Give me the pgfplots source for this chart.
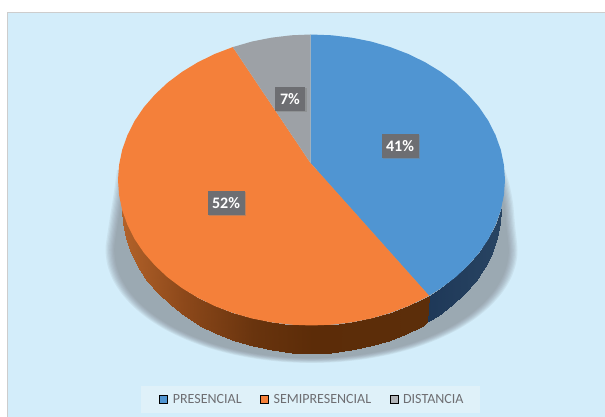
\documentclass[border=0pt]{standalone}
\usepackage{pgfplots}
\usepackage{pgfplotstable}
\usepackage{fontspec}
\setmainfont{Carlito}
\pgfplotsset{compat=1.18}
\usetikzlibrary{shadows}
\definecolor{panel}{HTML}{D3EDFA}
\definecolor{edge}{HTML}{CDCDCD}
\definecolor{blueT}{HTML}{5095D2}
\definecolor{orangeT}{HTML}{F4803A}
\definecolor{greyT}{HTML}{9DA1A6}
\definecolor{legbox}{HTML}{DFF1F9}
\definecolor{legtext}{HTML}{6E6E72}
\definecolor{labbox}{HTML}{6D6E72}
\definecolor{shade}{HTML}{787D82}
\pgfplotstableread{
x y
193.5 10
198 -5
201.5 -23
203.5 -45
206 -70
204.2 -84.7
199 -99.2
190.3 -113.2
178.4 -126.5
163.4 -138.8
145.7 -149.9
125.4 -159.6
103 -167.9
78.8 -174.4
53.3 -179.1
26.9 -182
0 -183
-26.9 -182
-53.3 -179.1
-78.8 -174.4
-103 -167.9
-125.4 -159.6
-145.7 -149.9
-163.4 -138.8
-178.4 -126.5
-190.3 -113.2
-199 -99.2
-204.2 -84.7
-206 -70
-205 -60
-201.5 -37
-198 -15
-194.5 10
}\shadowring
\begin{document}
\begin{tikzpicture}
\begin{axis}[
  scale only axis, width=605pt, height=417pt,
  xmin=-311.5, xmax=293.5, ymin=-237, ymax=180,
  hide axis,
  legend columns=3,
  legend cell align=left,
  legend style={at={(axis cs:-1,-219.5)},anchor=center,fill=legbox,draw=none,
    inner xsep=14pt,inner ysep=6.5pt,
    font=\fontsize{14}{16}\selectfont,text=legtext,
    /tikz/every even column/.append style={column sep=12.5pt}},
  legend image code/.code={\fill[#1] (0pt,-4pt) rectangle (8pt,4pt);\path (-4pt,0pt) (11pt,0pt);},
  colormap={orangewall}{rgb255(0cm)=(178,98,42); rgb255(63cm)=(140,72,26); rgb255(133cm)=(105,52,14); rgb255(193cm)=(92,44,8); rgb255(311cm)=(92,46,10)},
  colormap={bluewall}{rgb255(0cm)=(30,56,88); rgb255(1cm)=(40,68,98)},
]
% legend first, so that the entries belong to these images
\addlegendimage{fill=blueT}
\addlegendentry{PRESENCIAL}
\addlegendimage{fill=orangeT}
\addlegendentry{SEMIPRESENCIAL}
\addlegendimage{fill=greyT!80!white}
\addlegendentry{DISTANCIA}
% page and panel
\addplot[fill=white,draw=none] coordinates {(-311.5,180) (293.5,180) (293.5,-237) (-311.5,-237)} --cycle;
\addplot[fill=panel,draw=none] coordinates {(-304,167.5) (293.5,167.5) (293.5,-237) (-304,-237)} --cycle;
\addplot[draw=edge,line width=1.5pt] coordinates {(-304,-237) (-304,167.5) (293.5,167.5)};
% soft shadow: the same outline, drawn smaller and smaller about its centre
\addplot[smooth,fill=shade,draw=none,fill opacity=.1] table[x expr=\thisrow{x}*1.000,y expr=-70+(\thisrow{y}+70)*1.000] {\shadowring} --cycle;
\addplot[smooth,fill=shade,draw=none,fill opacity=.1] table[x expr=\thisrow{x}*0.994,y expr=-70+(\thisrow{y}+70)*0.994] {\shadowring} --cycle;
\addplot[smooth,fill=shade,draw=none,fill opacity=.1] table[x expr=\thisrow{x}*0.988,y expr=-70+(\thisrow{y}+70)*0.988] {\shadowring} --cycle;
\addplot[smooth,fill=shade,draw=none,fill opacity=.1] table[x expr=\thisrow{x}*0.982,y expr=-70+(\thisrow{y}+70)*0.982] {\shadowring} --cycle;
\addplot[smooth,fill=shade,draw=none,fill opacity=.1] table[x expr=\thisrow{x}*0.976,y expr=-70+(\thisrow{y}+70)*0.976] {\shadowring} --cycle;
\addplot[smooth,fill=shade,draw=none,fill opacity=.1] table[x expr=\thisrow{x}*0.970,y expr=-70+(\thisrow{y}+70)*0.970] {\shadowring} --cycle;
\addplot[smooth,fill=shade,draw=none,fill opacity=.1] table[x expr=\thisrow{x}*0.964,y expr=-70+(\thisrow{y}+70)*0.964] {\shadowring} --cycle;
\addplot[smooth,fill=shade,draw=none,fill opacity=.1] table[x expr=\thisrow{x}*0.958,y expr=-70+(\thisrow{y}+70)*0.958] {\shadowring} --cycle;
% blue wall
\addplot[surf,shader=interp,colormap name=bluewall,point meta=x,point meta rel=per plot,mesh/rows=2] table {
x y
117.5 -115.6
129.5 -108.1
143.8 -97.4
156.5 -85.5
167.6 -72.8
176.8 -59.2
184.0 -45.0
189.3 -30.2
189.4 -29.6
189.5 -29
115 -142.5
126.8 -136.1
140.8 -125.4
153.2 -113.5
164.1 -100.8
173.1 -87.2
180.1 -73.0
185.3 -58.2
188.4 -43.2
189.5 -29
};
% orange wall
\addplot[surf,shader=interp,colormap name=orangewall,point meta=x,point meta rel=per plot,mesh/rows=2] table {
x y
-189.5 -29
-189.4 -29.6
-189.3 -30.2
-184 -45
-176.8 -59.2
-167.6 -72.8
-156.5 -85.5
-143.8 -97.4
-129.5 -108.1
-113.7 -117.7
-96.8 -126
-78.7 -132.9
-59.8 -138.4
-40.2 -142.3
-20.2 -144.7
0 -145.5
20.2 -144.7
40.2 -142.3
59.8 -138.4
78.7 -132.9
96.8 -126
113.7 -117.7
117.5 -115.6
-189.5 -29
-188.4 -43.2
-185.3 -58.2
-180.1 -73
-173.1 -87.2
-164.1 -100.8
-153.2 -113.5
-140.8 -125.4
-126.8 -136.1
-111.3 -145.7
-94.8 -154
-77 -160.9
-58.5 -166.4
-39.4 -170.3
-19.8 -172.7
0 -173.5
19.8 -172.7
39.4 -170.3
58.5 -166.4
77 -160.9
94.8 -154
111.3 -145.7
115 -142.5
};
% top face
\addplot[fill=blueT,draw=none] coordinates {(-1,17) (-1,145.5) (20.2,144.7) (40.2,142.3) (59.8,138.4) (78.7,132.9) (96.8,126) (113.7,117.7) (129.5,108.1) (143.8,97.4) (156.5,85.5) (167.6,72.8) (176.8,59.2) (184,45) (189.3,30.2) (192.4,15.2) (193.5,0) (192.4,-15.2) (189.3,-30.2) (184,-45) (176.8,-59.2) (167.6,-72.8) (156.5,-85.5) (143.8,-97.4) (129.5,-108.1) (117.5,-115.6)} --cycle;
\addplot[fill=orangeT,draw=none] coordinates {(-1,17) (117.5,-115.6) (113.7,-117.7) (96.8,-126) (78.7,-132.9) (59.8,-138.4) (40.2,-142.3) (20.2,-144.7) (0,-145.5) (-20.2,-144.7) (-40.2,-142.3) (-59.8,-138.4) (-78.7,-132.9) (-96.8,-126) (-113.7,-117.7) (-129.5,-108.1) (-143.8,-97.4) (-156.5,-85.5) (-167.6,-72.8) (-176.8,-59.2) (-184,-45) (-189.3,-30.2) (-192.4,-15.2) (-193.5,0) (-192.4,15.2) (-189.3,30.2) (-184,45) (-176.8,59.2) (-167.6,72.8) (-156.5,85.5) (-143.8,97.4) (-129.5,108.1) (-113.7,117.7) (-96.8,126) (-78.7,132.9)} --cycle;
\addplot[fill=greyT,draw=none] coordinates {(-1,17) (-78.7,132.9) (-59.8,138.4) (-40.2,142.3) (-20.2,144.7) (-1,145.5)} --cycle;
% labels
\tikzset{lab/.style={fill=labbox,text=white,font=\fontsize{16}{18}\selectfont\bfseries,
  minimum height=24pt,inner xsep=4pt,inner ysep=0pt,
  drop shadow={shadow xshift=1.5pt,shadow yshift=-1.5pt,opacity=.45}}}
\node[lab,minimum width=37pt] at (axis cs:88.5,34) {41\%};
\node[lab,minimum width=37pt] at (axis cs:-85.5,-23) {52\%};
\node[lab,minimum width=30pt] at (axis cs:-21.5,81) {7\%};
\end{axis}
\end{tikzpicture}
\end{document}
